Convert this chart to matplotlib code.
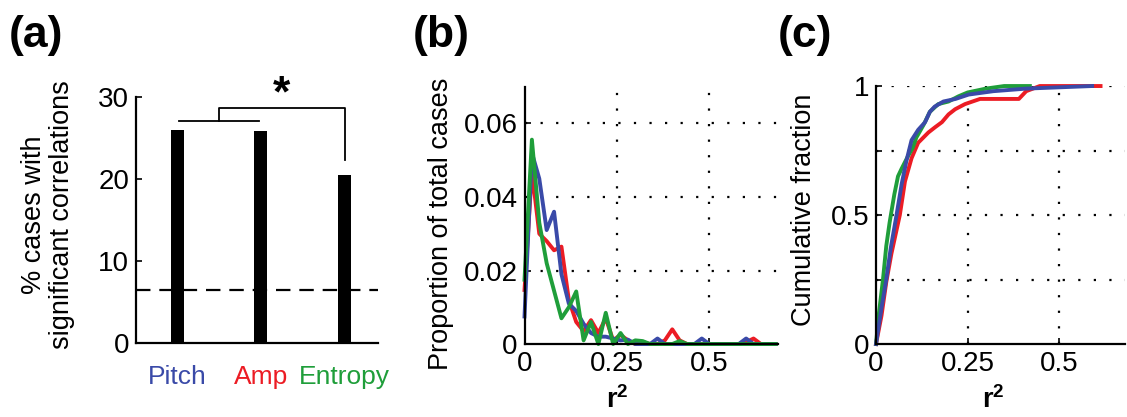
import numpy as np
import matplotlib
matplotlib.use("Agg")
import matplotlib.pyplot as plt

#Fonts
plt.rcParams['font.family'] = ['Liberation Sans', 'DejaVu Sans']
plt.rcParams['mathtext.fontset'] = 'custom'
plt.rcParams['mathtext.rm'] = 'Liberation Sans'
plt.rcParams['mathtext.bf'] = 'Liberation Sans:bold'

#Colors
blue = "#3a4aa8"
red = "#ec1c24"
green = "#1f9e3a"

#Panel a data
categories = ["Pitch", "Amp", "Entropy"]
cat_colors = [blue, red, green]
percent_sig = [26.0, 25.9, 20.5]
chance_level = 6.4

#Panel b data (histogram of r^2, bin step 0.02)
r2_bins = [0.00, 0.02, 0.04, 0.06, 0.08, 0.10, 0.12, 0.14, 0.16, 0.18,
           0.20, 0.22, 0.24, 0.26, 0.28, 0.30, 0.32, 0.34, 0.36, 0.38,
           0.40, 0.42, 0.44, 0.46, 0.48, 0.50, 0.52, 0.54, 0.56, 0.58,
           0.60, 0.62, 0.64, 0.66, 0.68]
prop_pitch = [0.0075, 0.052, 0.045, 0.031, 0.036, 0.019, 0.011, 0.009, 0.0055, 0.003,
              0.002, 0.002, 0.0015, 0.001, 0.0012, 0.0, 0.0, 0.0, 0.0015, 0.0,
              0.0, 0.0, 0.0, 0.0, 0.0015, 0.0, 0.0, 0.0, 0.0, 0.0,
              0.0015, 0.0, 0.0, 0.0, 0.0]
prop_amp = [0.0147, 0.047, 0.030, 0.028, 0.0255, 0.0265, 0.012, 0.006, 0.0035, 0.0065,
            0.003, 0.007, 0.001, 0.0025, 0.001, 0.0, 0.0005, 0.0, 0.0, 0.001,
            0.004, 0.001, 0.0, 0.0, 0.0, 0.0, 0.0, 0.0, 0.0, 0.0,
            0.0005, 0.0015, 0.0, 0.0, 0.0]
prop_entropy = [0.0175, 0.0556, 0.033, 0.022, 0.0145, 0.007, 0.010, 0.0143, 0.001, 0.006,
                0.0, 0.0085, 0.0, 0.003, 0.0, 0.001, 0.0008, 0.0, 0.0, 0.0,
                0.0, 0.0008, 0.0, 0.0, 0.0, 0.0, 0.0, 0.0, 0.0, 0.0,
                0.0, 0.0, 0.0, 0.0, 0.0]

#Panel c data (cumulative fraction)
cdf_pitch_x = [0, .015, .028, .040, .056, .07, .083, .097, .115, .134, .147, .16, .184, .217, .253, .32, .41, .59]
cdf_pitch_y = [0, .14, .25, .37, .50, .62, .71, .79, .83, .86, .90, .92, .94, .95, .967, .98, .99, 1.0]
cdf_amp_x = [0, .015, .028, .042, .065, .079, .097, .115, .143, .161, .18, .198, .216, .243, .284, .39, .41, .447, .613]
cdf_amp_y = [0, .11, .24, .35, .50, .63, .72, .78, .82, .84, .86, .89, .91, .93, .95, .95, .98, 1.0, 1.0]
cdf_entropy_x = [0, .008, .019, .028, .037, .05, .06, .07, .088, .10, .11, .13, .147, .17, .198, .225, .25, .30, .35, .42]
cdf_entropy_y = [0, .12, .25, .38, .47, .58, .65, .68, .73, .76, .80, .85, .90, .93, .94, .96, .975, .99, 1.0, 1.0]

#Style variables
tsize = 20 #tick label size
lsize = 19.5 #axis label size
lwidth = 2.8
dotted = (0, (1, 6))

fig = plt.figure(figsize=(11.27, 4.17), dpi=100)

def style_axes(ax):
    ax.spines['top'].set_visible(False)
    ax.spines['right'].set_visible(False)
    ax.spines['left'].set_linewidth(1.6)
    ax.spines['bottom'].set_linewidth(1.6)
    ax.tick_params(direction='in', length=4, width=1.2, labelsize=tsize, pad=5)

#Panel a
ax1 = fig.add_axes([0.1207, 0.1775, 0.2147, 0.59])
xpos = np.arange(1, len(categories) + 1)
ax1.bar(xpos, percent_sig, width=0.155, color='black')
ax1.axhline(chance_level, color='black', linewidth=1.6, linestyle=(0, (6.5, 4)))
ax1.set_xlim(0.51, 3.4)
ax1.set_ylim(0, 30)
ax1.set_yticks([0, 10, 20, 30])
style_axes(ax1)
ax1.set_xticks(xpos)
ax1.set_xticklabels(categories)
ax1.tick_params(axis='x', length=0, pad=16, labelsize=19)
for lab, c in zip(ax1.get_xticklabels(), cat_colors):
    lab.set_color(c)
ax1.set_ylabel("% cases with\nsignificant correlations", fontsize=19.5, linespacing=1.1)
ax1.yaxis.set_label_coords(-0.252, 0.52)
#Significance bracket
ax1.plot([1.02, 1.98], [27.1, 27.1], color='black', lw=1.3, clip_on=False)
ax1.plot([1.5, 1.5, 3.0, 3.0], [27.1, 28.6, 28.6, 22.3], color='black', lw=1.3, clip_on=False)
ax1.text(2.25, 30.2, "*", fontsize=32, fontweight='bold', ha='center', va='center')

#Panel b
ax2 = fig.add_axes([0.4654, 0.175, 0.2245, 0.617])
ax2.plot(r2_bins, prop_amp, color=red, lw=lwidth, clip_on=False)
ax2.plot(r2_bins, prop_pitch, color=blue, lw=lwidth, clip_on=False)
ax2.plot(r2_bins, prop_entropy, color=green, lw=lwidth, clip_on=False)
ax2.set_xlim(0, 0.685)
ax2.set_ylim(0, 0.07)
ax2.set_xticks([0, 0.25, 0.5])
ax2.set_xticklabels(["0", "0.25", "0.5"])
ax2.set_yticks([0, 0.02, 0.04, 0.06])
ax2.set_yticklabels(["0", "0.02", "0.04", "0.06"])
style_axes(ax2)
for v in [0.25, 0.5]:
    ax2.axvline(v, color='black', lw=1.6, linestyle=dotted, zorder=0)
for v in [0.02, 0.04, 0.06]:
    ax2.axhline(v, color='black', lw=1.6, linestyle=dotted, zorder=0)
ax2.set_ylabel("Proportion of total cases", fontsize=lsize)
ax2.yaxis.set_label_coords(-0.28, 0.467)
ax2.set_xlabel(r"$\mathbf{r^2}$", fontsize=lsize)
ax2.xaxis.set_label_coords(0.367, -0.165)

#Panel c
ax3 = fig.add_axes([0.7773, 0.175, 0.221, 0.6187])
ax3.plot(cdf_amp_x, cdf_amp_y, color=red, lw=lwidth, clip_on=False)
ax3.plot(cdf_entropy_x, cdf_entropy_y, color=green, lw=lwidth, clip_on=False)
ax3.plot(cdf_pitch_x, cdf_pitch_y, color=blue, lw=lwidth, clip_on=False)
ax3.set_xlim(0, 0.68)
ax3.set_ylim(0, 1)
ax3.set_xticks([0, 0.25, 0.5])
ax3.set_xticklabels(["0", "0.25", "0.5"])
ax3.set_yticks([0, 0.25, 0.5, 0.75, 1])
ax3.set_yticklabels(["0", "", "0.5", "", "1"])
style_axes(ax3)
for v in [0.25, 0.5]:
    ax3.axvline(v, color='black', lw=1.6, linestyle=dotted, zorder=0)
for v in [0.25, 0.5, 0.75, 1]:
    ax3.axhline(v, color='black', lw=1.6, linestyle=dotted, zorder=0)
ax3.set_ylabel("Cumulative fraction", fontsize=lsize)
ax3.yaxis.set_label_coords(-0.237, 0.52)
ax3.set_xlabel(r"$\mathbf{r^2}$", fontsize=lsize)
ax3.xaxis.set_label_coords(0.47, -0.165)

#Panel letters
fig.text(0.008, 0.915, "(a)", fontsize=32, fontweight='bold', va='center')
fig.text(0.366, 0.915, "(b)", fontsize=32, fontweight='bold', va='center')
fig.text(0.69, 0.915, "(c)", fontsize=32, fontweight='bold', va='center')

plt.savefig("out.png", dpi=100)
